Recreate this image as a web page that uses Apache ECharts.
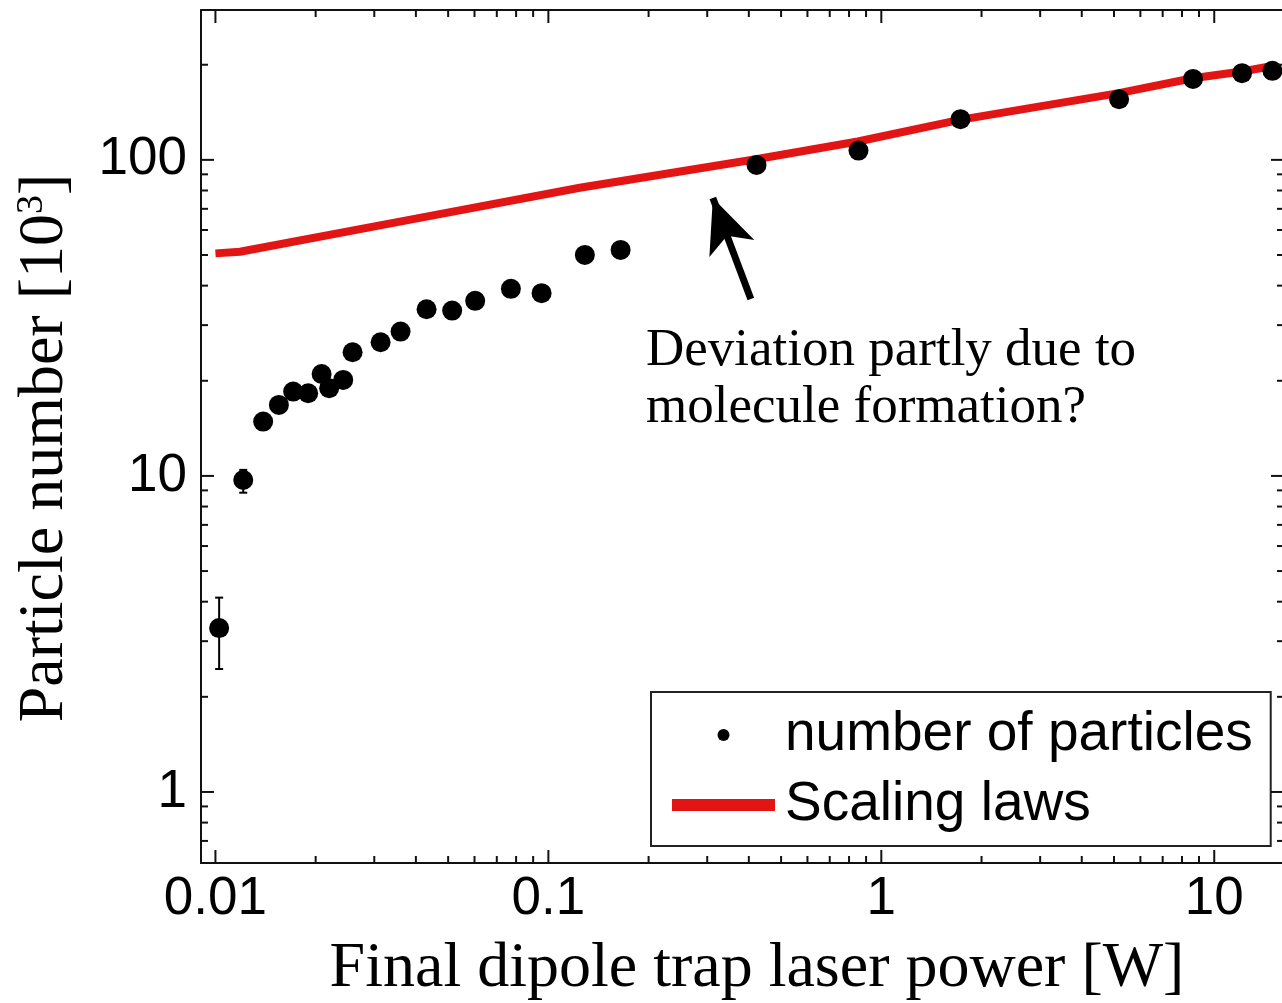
<!DOCTYPE html>
<html><head><meta charset="utf-8">
<script src="https://cdn.jsdelivr.net/npm/echarts@6/dist/echarts.min.js"></script>
<style>html,body{margin:0;padding:0;background:#fff}#c{width:1282px;height:1003px}</style>
</head><body><div id="c"></div>
<script>
// ---- data ----
const powerW = [0.01026, 0.01212, 0.01391, 0.01551, 0.01712, 0.01899, 0.02084, 0.02196, 0.0242, 0.02582,
  0.03134, 0.03598, 0.04307, 0.05141, 0.06028, 0.07716, 0.09541, 0.1287, 0.1648,
  0.4219, 0.854, 1.729, 5.178, 8.635, 12.12, 14.95];
const particles = [3.30, 9.71, 14.86, 16.78, 18.49, 18.27, 21.02, 18.95, 20.13, 24.62,
  26.49, 28.62, 33.69, 33.35, 35.8, 39.07, 37.86, 50.04, 51.9,
  96.4, 107, 134.5, 155.6, 180.4, 188.1, 191.3];
const errPower = [0.01026, 0.01212];
const errLow = [2.45, 8.85];
const errHigh = [4.12, 10.45];
const scalingP = [0.01, 0.01185, 0.03581, 0.1243, 0.42, 0.85, 1.72, 5.17, 8.62, 12.1, 14.68];
const scalingN = [50.6, 51.2, 63.8, 81.6, 100.5, 114.3, 133.8, 162.6, 181.3, 190.4, 197.4];
const arrowTail = [0.4056, 36.3];
const arrowTip = [0.3119, 75.8];
const xMajorTicks = [0.01, 0.1, 1, 10];
const xMinorTicks = [0.02, 0.03, 0.04, 0.05, 0.06, 0.07, 0.08, 0.09,
  0.2, 0.3, 0.4, 0.5, 0.6, 0.7, 0.8, 0.9, 2, 3, 4, 5, 6, 7, 8, 9];
const yMajorTicks = [1, 10, 100];
const yMinorTicks = [0.7, 0.8, 0.9, 2, 3, 4, 5, 6, 7, 8, 9, 20, 30, 40, 50, 60, 70, 80, 90, 200];
const xTickLabels = ['0.01', '0.1', '1', '10'];
const yTickLabels = ['1', '10', '100'];
const xRange = [0.00905, 16.2];
const yRange = [0.596, 298];

const sans = '"Liberation Sans", Arial, sans-serif';
const serif = '"Liberation Serif", "Times New Roman", serif';

const tickData = [].concat(
  xMajorTicks.map(v => [v, 1, 1, 0]),
  xMinorTicks.map(v => [v, 1, 0, 0]),
  yMajorTicks.map(v => [1, v, 1, 1]),
  yMinorTicks.map(v => [1, v, 0, 1])
);
const errData = errPower.map((x, i) => [x, particles[i], errLow[i], errHigh[i]]);

function labelFor(list, labels) {
  return v => {
    let best = 0, bd = Infinity;
    list.forEach((t, i) => { const d = Math.abs(Math.log10(t) - Math.log10(v)); if (d < bd) { bd = d; best = i; } });
    return labels[best];
  };
}

const chart = echarts.init(document.getElementById('c'), null, {renderer: 'canvas'});
const axisLine = {show: true, lineStyle: {color: '#111', width: 2}};
chart.setOption({
  backgroundColor: '#fff',
  animation: false,
  grid: {left: 201, top: 10, width: 1083, height: 853, outerBoundsMode: 'none', containLabel: false},
  xAxis: [
    {type: 'log', logBase: 10, min: xRange[0], max: xRange[1], position: 'bottom',
      axisLine, axisTick: {show: false}, splitLine: {show: false}, minorTick: {show: false},
      axisLabel: {customValues: xMajorTicks, formatter: labelFor(xMajorTicks, xTickLabels), color: '#000',
        fontFamily: sans, fontSize: 53, margin: 10, showMinLabel: true, showMaxLabel: true}},
    {type: 'log', logBase: 10, min: xRange[0], max: xRange[1], position: 'top',
      axisLine, axisTick: {show: false}, splitLine: {show: false}, axisLabel: {show: false}}
  ],
  yAxis: [
    {type: 'log', logBase: 10, min: yRange[0], max: yRange[1], position: 'left',
      axisLine, axisTick: {show: false}, splitLine: {show: false}, minorTick: {show: false},
      axisLabel: {customValues: yMajorTicks, formatter: labelFor(yMajorTicks, yTickLabels), color: '#000',
        fontFamily: sans, fontSize: 53, margin: 14}},
    {type: 'log', logBase: 10, min: yRange[0], max: yRange[1], position: 'right',
      axisLine, axisTick: {show: false}, splitLine: {show: false}, axisLabel: {show: false}}
  ],
  legend: {
    left: 651, top: 692, orient: 'vertical',
    data: [
      {name: 'number of particles', icon: 'circle', itemStyle: {color: '#000', opacity: 1}},
      {name: 'Scaling laws', icon: 'rect', itemStyle: {color: '#e31414'}}
    ],
    itemWidth: 103, itemHeight: 12, itemGap: 10,
    padding: [13, 18, 11, 21],
    borderColor: '#222', borderWidth: 2, backgroundColor: '#fff',
    textStyle: {fontFamily: sans, fontSize: 55, color: '#000', lineHeight: 60, padding: [0, 0, 0, 5]},
    selectedMode: false
  },
  series: [
    {
      name: 'Scaling laws', type: 'line', xAxisIndex: 0, yAxisIndex: 0,
      data: scalingP.map((p, i) => [p, scalingN[i]]),
      symbol: 'none', lineStyle: {color: '#e31414', width: 8}, itemStyle: {color: '#e31414'},
      z: 2, silent: true,
      markLine: {
        silent: true, symbol: ['none', 'arrow'], symbolSize: [36, 54],
        label: {show: false},
        lineStyle: {color: '#000', width: 7, type: 'solid'},
        data: [[{coord: arrowTail}, {coord: arrowTip}]]
      }
    },
    {
      name: 'errors', type: 'custom', xAxisIndex: 0, yAxisIndex: 0, z: 3, silent: true,
      data: errData,
      renderItem: function (params, api) {
        const lo = api.coord([api.value(0), api.value(2)]);
        const hi = api.coord([api.value(0), api.value(3)]);
        const st = {stroke: '#000', lineWidth: 2};
        return {type: 'group', children: [
          {type: 'line', shape: {x1: lo[0], y1: lo[1], x2: hi[0], y2: hi[1]}, style: st},
          {type: 'line', shape: {x1: lo[0] - 4, y1: lo[1], x2: lo[0] + 4, y2: lo[1]}, style: st},
          {type: 'line', shape: {x1: hi[0] - 4, y1: hi[1], x2: hi[0] + 4, y2: hi[1]}, style: st}
        ]};
      }
    },
    {
      name: 'number of particles', type: 'scatter', xAxisIndex: 0, yAxisIndex: 0,
      data: powerW.map((p, i) => [p, particles[i]]),
      symbol: 'circle', symbolSize: 20, itemStyle: {color: '#000', opacity: 1}, z: 4, silent: true
    },
    {
      name: 'ticks', type: 'custom', xAxisIndex: 0, yAxisIndex: 0, z: 5, silent: true, clip: false,
      data: tickData,
      renderItem: function (params, api) {
        const cs = params.coordSys;
        const len = api.value(2) ? 13 : 7;
        const st = {stroke: '#111', lineWidth: 2};
        if (!api.value(3)) {
          const px = api.coord([api.value(0), 1])[0];
          const b = cs.y + cs.height;
          return {type: 'group', children: [
            {type: 'line', shape: {x1: px, y1: b, x2: px, y2: b - len}, style: st},
            {type: 'line', shape: {x1: px, y1: cs.y, x2: px, y2: cs.y + len}, style: st}
          ]};
        } else {
          const py = api.coord([1, api.value(1)])[1];
          const r = cs.x + cs.width;
          return {type: 'group', children: [
            {type: 'line', shape: {x1: cs.x, y1: py, x2: cs.x + len, y2: py}, style: st},
            {type: 'line', shape: {x1: r, y1: py, x2: r - len, y2: py}, style: st}
          ]};
        }
      }
    }
  ],
  graphic: [
    {type: 'text', x: 757, y: 969, z: 10,
      style: {text: 'Final dipole trap laser power [W]', fontFamily: serif, fontSize: 64, fill: '#000',
        textAlign: 'center', textVerticalAlign: 'middle'}},
    {type: 'text', x: 45, y: 448, rotation: Math.PI / 2, z: 10,
      style: {text: '{a|Particle number [10}{s|3}{a|]}', textAlign: 'center', textVerticalAlign: 'middle', fill: '#000',
        rich: {
          a: {fontFamily: serif, fontSize: 64, lineHeight: 64, verticalAlign: 'bottom', fill: '#000'},
          s: {fontFamily: serif, fontSize: 38, lineHeight: 40, verticalAlign: 'top', fill: '#000'}
        }}},
    {type: 'text', x: 646, y: 323, z: 10,
      style: {text: 'Deviation partly due to\nmolecule formation?', fontFamily: serif, fontSize: 53, lineHeight: 57,
        fill: '#000', textAlign: 'left', textVerticalAlign: 'top'}}
  ]
});
</script></body></html>
